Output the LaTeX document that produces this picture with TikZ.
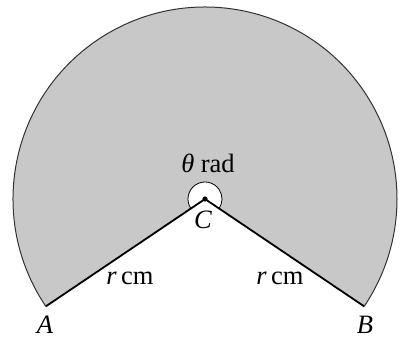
\documentclass[tikz,border=0pt]{standalone}
\usepackage{fontspec}
\setmainfont{Liberation Serif}
\usetikzlibrary{calc}
\definecolor{sectorgray}{RGB}{200,200,200}
\begin{document}
\begin{tikzpicture}[x=1pt,y=1pt,
  lbl/.style={font=\fontsize{26.5}{30}\selectfont, inner sep=0pt},
  radius line/.style={line width=1.8pt, line join=miter},
  rim/.style={line width=1pt, draw={rgb,255:red,50;green,50;blue,50}}]
\useasboundingbox (0,0) rectangle (406,349);
\coordinate (C) at (205,150);
\coordinate (A) at ($(C)+(214:192)$);
\coordinate (B) at ($(C)+(-34:192)$);
\coordinate (a1) at ($(C)+(214:17)$);
% major sector
\fill[sectorgray] (C) -- (A) arc[start angle=214, end angle=-34, radius=192] -- cycle;
\draw[rim] (A) arc[start angle=214, end angle=-34, radius=192];
% angle mark
\fill[white] (C) -- (a1) arc[start angle=214, end angle=-34, radius=17] -- cycle;
\draw[line width=0.8pt] (a1) arc[start angle=214, end angle=-34, radius=17];
% radii
\draw[radius line] (A) -- (C) -- (B);
\fill (C) circle (2.6);
% labels
\node[lbl] (lA) at (45,24) {\textit{A}};
\node[lbl] (lB) at (365,24) {\textit{B}};
\node[lbl] (lC) at (203,129) {\textit{C}};
\node[lbl] (lth) at (208,186) {\textit{θ} rad};
\node[lbl] (lr1) at (130,71) {\textit{r}\,cm};
\node[lbl] (lr2) at (280,71) {\textit{r}\,cm};
\end{tikzpicture}
\end{document}
